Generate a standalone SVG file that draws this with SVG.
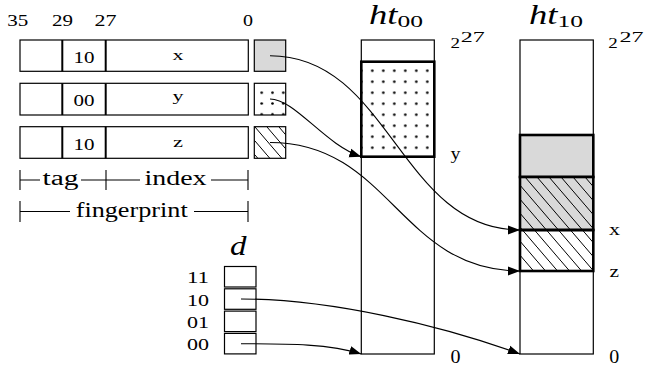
<svg xmlns="http://www.w3.org/2000/svg" width="645" height="368" viewBox="0 0 645 368">
<style>
text{font-family:"Liberation Serif",serif;fill:#000}
.c{text-anchor:middle}
.it{font-style:italic}
.box{fill:#fff;stroke:#000;stroke-width:1.2}
.thick{stroke:#000;stroke-width:2.6}
.div{stroke:#000;stroke-width:2}
.ln{fill:none;stroke:#000;stroke-width:1.1}
.conn{fill:none;stroke:#000;stroke-width:1.1;marker-end:url(#ah)}
</style>
<defs>
<marker id="ah" markerWidth="12" markerHeight="10" refX="12" refY="5" orient="auto" markerUnits="userSpaceOnUse"><path d="M0,0.6 L12,5 L0,9.4 z" fill="#000"/></marker>
<pattern id="dotsBig" patternUnits="userSpaceOnUse" x="355.8" y="65.2" width="11" height="11"><circle cx="5.5" cy="5.5" r="1.3" fill="#000"/></pattern>
<pattern id="dotsSmall" patternUnits="userSpaceOnUse" x="256.3" y="87.3" width="10.8" height="10.8"><circle cx="5.4" cy="5.4" r="1.3" fill="#000"/></pattern>
<pattern id="hatchS" patternUnits="userSpaceOnUse" x="255" y="127" width="12" height="14"><path d="M-1,-1.17 L13,15.17" stroke="#000" stroke-width="1"/></pattern>
<pattern id="hatchB" patternUnits="userSpaceOnUse" x="525" y="177" width="12" height="14"><path d="M-1,-1.17 L13,15.17" stroke="#000" stroke-width="1"/></pattern>
</defs>

<g id="bit-labels" font-size="17">
<text class="c" x="17.8" y="26" textLength="21" lengthAdjust="spacingAndGlyphs">35</text>
<text class="c" x="62.5" y="26" textLength="21" lengthAdjust="spacingAndGlyphs">29</text>
<text class="c" x="105.5" y="26" textLength="22" lengthAdjust="spacingAndGlyphs">27</text>
<text class="c" x="248" y="26" textLength="10" lengthAdjust="spacingAndGlyphs">0</text>
</g>

<g id="row-x">
<rect class="box" x="20" y="40" width="228.3" height="31.3"/>
<line class="div" x1="62.3" y1="40" x2="62.3" y2="71.3"/>
<line class="div" x1="105.7" y1="40" x2="105.7" y2="71.3"/>
<text class="c" x="84" y="63.3" font-size="17" textLength="21" lengthAdjust="spacingAndGlyphs">10</text>
<text class="c" x="178" y="59.8" font-size="15" textLength="11" lengthAdjust="spacingAndGlyphs">x</text>
</g>
<g id="row-y">
<rect class="box" x="20" y="83.3" width="228.3" height="31.7"/>
<line class="div" x1="62.3" y1="83.3" x2="62.3" y2="115"/>
<line class="div" x1="105.7" y1="83.3" x2="105.7" y2="115"/>
<text class="c" x="84" y="106" font-size="17" textLength="21" lengthAdjust="spacingAndGlyphs">00</text>
<text class="c" x="178" y="100.5" font-size="15" textLength="11" lengthAdjust="spacingAndGlyphs">y</text>
</g>
<g id="row-z">
<rect class="box" x="20" y="126.7" width="228.3" height="31.6"/>
<line class="div" x1="62.3" y1="126.7" x2="62.3" y2="158.3"/>
<line class="div" x1="105.7" y1="126.7" x2="105.7" y2="158.3"/>
<text class="c" x="84" y="150" font-size="17" textLength="21" lengthAdjust="spacingAndGlyphs">10</text>
<text class="c" x="178" y="146.7" font-size="15" textLength="10" lengthAdjust="spacingAndGlyphs">z</text>
</g>

<g id="key-x"><rect x="254.3" y="40" width="31.4" height="31.3" fill="#d9d9d9" stroke="#000" stroke-width="1.2"/></g>
<g id="key-y"><rect x="254.3" y="83.3" width="31.4" height="31.7" fill="url(#dotsSmall)" stroke="#000" stroke-width="1.2"/></g>
<g id="key-z"><rect x="254.3" y="126.7" width="31.4" height="31.6" fill="url(#hatchS)" stroke="#000" stroke-width="1.2"/></g>

<g id="brackets">
<path class="ln" d="M20,170 V190 M106,170 V190 M248,170 V190 M20,180 H40 M81,180 H140 M211,180 H248"/>
<text class="c" x="60.5" y="185" font-size="20" textLength="36" lengthAdjust="spacingAndGlyphs">tag</text>
<text class="c" x="175.5" y="185" font-size="20" textLength="62" lengthAdjust="spacingAndGlyphs">index</text>
<path class="ln" d="M20,201 V222 M248,201 V222 M20,211.5 H70 M194,211.5 H248"/>
<text class="c" x="131.7" y="216.7" font-size="20" textLength="112" lengthAdjust="spacingAndGlyphs">fingerprint</text>
</g>

<g id="ht00">
<text class="it" x="369" y="24" font-size="27" textLength="28.5" lengthAdjust="spacingAndGlyphs">ht</text>
<text x="397.5" y="26.7" font-size="17" textLength="25.5" lengthAdjust="spacingAndGlyphs">00</text>
<rect class="box" x="361.3" y="40" width="73" height="314"/>
<rect x="361.3" y="61.7" width="73" height="95" fill="url(#dotsBig)" class="thick"/>
<text x="450.5" y="48.3" font-size="15" textLength="9.5" lengthAdjust="spacingAndGlyphs">2</text>
<text x="460.8" y="41.7" font-size="14.5" textLength="24" lengthAdjust="spacingAndGlyphs">27</text>
<text x="450.5" y="158.5" font-size="16" textLength="10" lengthAdjust="spacingAndGlyphs">y</text>
<text x="450.5" y="362.7" font-size="18" textLength="10" lengthAdjust="spacingAndGlyphs">0</text>
</g>

<g id="ht10">
<text class="it" x="529" y="24" font-size="27" textLength="28.5" lengthAdjust="spacingAndGlyphs">ht</text>
<text x="557.5" y="26.7" font-size="17" textLength="25.5" lengthAdjust="spacingAndGlyphs">10</text>
<rect class="box" x="520" y="40" width="73.3" height="314"/>
<rect x="520" y="135" width="73.3" height="42" fill="#d9d9d9" class="thick"/>
<rect x="520" y="177" width="73.3" height="53" fill="#d9d9d9" stroke="none"/>
<rect x="520" y="177" width="73.3" height="53" fill="url(#hatchB)" class="thick"/>
<rect x="520" y="230" width="73.3" height="41" fill="url(#hatchB)" class="thick"/>
<text x="608.3" y="48.3" font-size="15" textLength="9.5" lengthAdjust="spacingAndGlyphs">2</text>
<text x="619.5" y="41.7" font-size="14.5" textLength="24" lengthAdjust="spacingAndGlyphs">27</text>
<text x="609" y="235" font-size="17" textLength="11" lengthAdjust="spacingAndGlyphs">x</text>
<text x="609.5" y="276.7" font-size="17" textLength="9.5" lengthAdjust="spacingAndGlyphs">z</text>
<text x="609.3" y="362.7" font-size="18" textLength="10" lengthAdjust="spacingAndGlyphs">0</text>
</g>

<g id="d">
<text class="it" x="230" y="255" font-size="27" textLength="16.5" lengthAdjust="spacingAndGlyphs">d</text>
<rect class="box" x="224.5" y="266.5" width="31.5" height="20.5"/>
<rect class="box" x="224.5" y="288.8" width="31.5" height="20.5"/>
<rect class="box" x="224.5" y="311.1" width="31.5" height="20.5"/>
<rect class="box" x="224.5" y="333.4" width="31.5" height="20.5"/>
<text class="c" x="198" y="283.3" font-size="17" textLength="22" lengthAdjust="spacingAndGlyphs">11</text>
<text class="c" x="198" y="305.5" font-size="17" textLength="22" lengthAdjust="spacingAndGlyphs">10</text>
<text class="c" x="198" y="328.3" font-size="17" textLength="22" lengthAdjust="spacingAndGlyphs">01</text>
<text class="c" x="198" y="350" font-size="17" textLength="22" lengthAdjust="spacingAndGlyphs">00</text>
</g>

<g id="connectors">
<path class="conn" d="M270,55.7 C390,55.7 400,230 520,230"/>
<path class="conn" d="M270,99 C295,99 325,145 361.3,156.7"/>
<path class="conn" d="M270,142.5 C390,142.5 400,271 520,271"/>
<path class="conn" d="M241,299 C330,299 440,325 520,354"/>
<path class="conn" d="M241,343.7 C290,343.7 330,344 361.3,354"/>
</g>
</svg>
